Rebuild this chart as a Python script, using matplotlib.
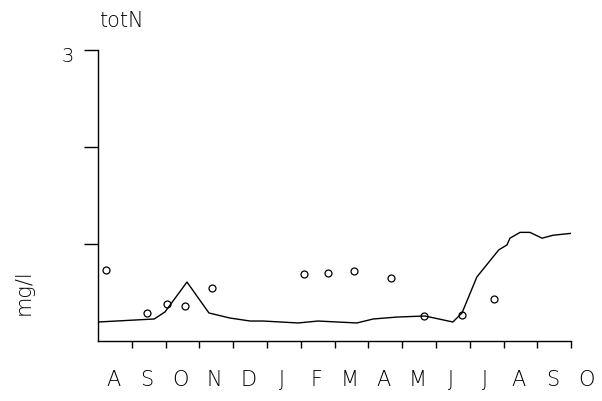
import matplotlib
matplotlib.use("Agg")
import matplotlib.pyplot as plt

month_labels = ["A", "S", "O", "N", "D", "J", "F", "M", "A", "M", "J", "J", "A", "S", "O"]

# observed values (months since start, mg/l)
obs_x = [0.24, 1.45, 2.04, 2.57, 3.37, 6.10, 6.80, 7.57, 8.68, 9.65, 10.77, 11.72]
obs_y = [0.73, 0.29, 0.38, 0.36, 0.55, 0.69, 0.70, 0.72, 0.65, 0.26, 0.27, 0.43]

# model line
mod_x = [0.0, 1.66, 1.98, 2.63, 3.28, 3.90, 4.50, 4.88, 5.92, 6.51, 7.66, 8.14, 8.85,
         9.67, 10.50, 10.77, 11.21, 11.86, 12.10, 12.19, 12.49, 12.78, 13.14, 13.46, 14.0]
mod_y = [0.196, 0.227, 0.30, 0.608, 0.289, 0.237, 0.206, 0.206, 0.186, 0.206, 0.186, 0.227, 0.247,
         0.258, 0.196, 0.289, 0.66, 0.94, 0.99, 1.06, 1.12, 1.12, 1.06, 1.09, 1.11]

plt.rcParams["font.family"] = ["DejaVu Sans"]
fig = plt.figure(figsize=(6.02, 4.01), dpi=100)
ax = fig.add_axes([0.163, 0.1496, 0.7857, 0.7257])

ax.plot(mod_x, mod_y, color="black", lw=1.0)
ax.plot(obs_x, obs_y, linestyle="none", marker="o", ms=5, mfc="none", mec="black", mew=0.9)

ax.set_xlim(0, 14)
ax.set_ylim(0, 3)
for s in ["top", "right"]:
    ax.spines[s].set_visible(False)
for s in ["left", "bottom"]:
    ax.spines[s].set_linewidth(1.0)

ax.set_xticks(range(1, 15))
ax.set_xticklabels([])
ax.tick_params(axis="x", direction="out", length=5, width=1)
ax.set_yticks([1, 2, 3])
ax.set_yticklabels([])
ax.tick_params(axis="y", direction="out", length=10, width=1)

ax.text(-0.9, 2.93, "3", ha="center", va="center", fontsize=14, fontweight="light",
        clip_on=False)

for i, lab in enumerate(month_labels):
    ax.text(i + 0.45, -0.40, lab, ha="center", va="center", fontsize=15,
            fontweight="light", clip_on=False, color="black")

fig.text(24 / 602, 1 - 292 / 401, "mg/l", rotation=90, ha="center", va="center",
         fontsize=15, fontweight="light")
fig.text(122 / 602, 1 - 21 / 401, "totN", ha="center", va="center", fontsize=15,
         fontweight="light")

fig.savefig("out.png", dpi=100)
